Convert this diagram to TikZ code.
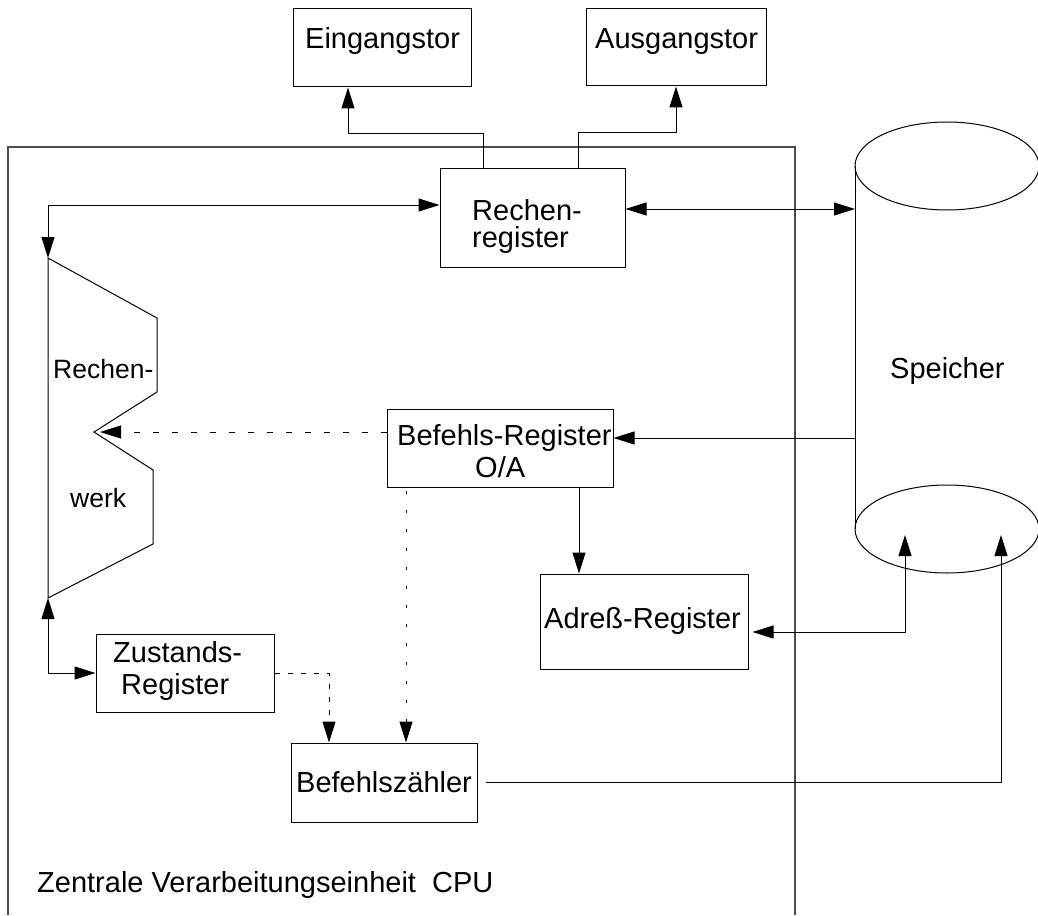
\documentclass[tikz,border=0pt]{standalone}
\usepackage{fontspec}
\setmainfont{Liberation Sans}
\usetikzlibrary{arrows.meta}
\begin{document}
\begin{tikzpicture}[x=1pt, y=-1pt,
  >={Triangle[length=21pt,width=13pt]},
  box/.style={draw, rectangle, line width=1pt, inner sep=0pt},
  lbl/.style={anchor=base west, inner sep=0pt, font=\fontsize{29pt}{34pt}\selectfont},
  smalllbl/.style={lbl, font=\fontsize{26.5pt}{31pt}\selectfont},
  conn/.style={line width=1pt},
  frameline/.style={line width=1.3pt, black!70},
  dashline/.style={conn, dash pattern=on 6pt off 13pt},
  shortdash/.style={conn, dash pattern=on 5pt off 8pt},
  dotline/.style={conn, dash pattern=on 3pt off 16pt}]
\useasboundingbox (0,0) rectangle (1038,915);

% CPU frame (open at the bottom)
\draw[frameline] (8,915) -- (8,147) -- (795,147) -- (795,915);

% boxes
\node[box, minimum width=178pt, minimum height=78pt] (ein) at (382,48) {};
\node[box, minimum width=180pt, minimum height=77pt] (aus) at (676,47.5) {};
\node[box, minimum width=185pt, minimum height=99pt] (rr) at (532.5,217.5) {};
\node[box, minimum width=226pt, minimum height=78pt] (br) at (500,448) {};
\node[box, minimum width=208pt, minimum height=95pt] (ar) at (644,621.5) {};
\node[box, minimum width=178pt, minimum height=78pt] (zr) at (185,673) {};
\node[box, minimum width=186pt, minimum height=79pt] (bz) at (384,782.5) {};

% labels
\node[lbl] (t-ein) at (305,49) {Eingangstor};
\node[lbl] (t-aus) at (595,49) {Ausgangstor};
\node[lbl] (t-rr1) at (472,220) {Rechen-};
\node[lbl] (t-rr2) at (472,247) {register};
\node[smalllbl] (t-rw1) at (53,378) {Rechen-};
\node[smalllbl] (t-rw2) at (70,507) {werk};
\node[lbl] (t-sp) at (890,378) {Speicher};
\node[lbl] (t-br1) at (397,445) {Befehls-Register};
\node[lbl] (t-br2) at (475,477) {O/A};
\node[lbl] (t-ar) at (544,628) {Adreß-Register};
\node[lbl] (t-zr1) at (113,662) {Zustands-};
\node[lbl] (t-zr2) at (121,694) {Register};
\node[lbl] (t-bz) at (296,792) {Befehlszähler};
\node[lbl] (t-cpu) at (37,892) {Zentrale Verarbeitungseinheit\ \ CPU};

% Rechenwerk
\coordinate (rw-top) at (48,258);
\coordinate (rw-notch) at (94,432);
\coordinate (rw-bot) at (48,598);
\draw[conn] (rw-top) -- (157,318) -- (157,392) -- (rw-notch) -- (153,470)
  -- (153,544) -- (rw-bot) -- cycle;

% Speicher (cylinder)
\draw[conn] (947,166) ellipse [x radius=92, y radius=44];
\draw[conn] (947,529) ellipse [x radius=92, y radius=44];
\draw[conn] (855,166) -- (855,529);
\coordinate (sp-rr) at (855,209);
\coordinate (sp-br) at (855,438);
\coordinate (sp-a) at (905,535);
\coordinate (sp-b) at (1001,535);

% connectors
\draw[conn, ->] ([xshift=-49.5pt]rr.north) |- ([xshift=-34pt, yshift=-46pt]ein.south)
  -- ([xshift=-34pt]ein.south);
\draw[conn, ->] ([xshift=45.5pt]rr.north) |- ([yshift=-46pt]aus.south) -- (aus.south);
\draw[conn, <->] (rw-top) |- ([yshift=12.5pt]rr.west);
\draw[conn, <->] ([yshift=8.5pt]rr.east) -- (sp-rr);
\draw[conn, ->] (sp-br) -- ([yshift=10pt]br.east);
\draw[dashline, ->] ([yshift=16pt]br.west) -- ([xshift=6pt]rw-notch);
\draw[conn, ->] ([xshift=79pt]br.south) -- ([xshift=79pt]br.south |- ar.north);
\draw[conn, <->] ([xshift=4pt, yshift=-10.5pt]ar.east) -| (sp-a);
\draw[conn, <->] (rw-bot) |- (zr.west);
\draw[shortdash, ->] (zr.east) -| ([xshift=-55pt]bz.north);
\draw[dotline, ->] ([xshift=-94pt, yshift=-3pt]br.south) -- ([xshift=22pt]bz.north);
\draw[conn, ->] ([xshift=8pt]bz.east) -| (sp-b);
\end{tikzpicture}
\end{document}
